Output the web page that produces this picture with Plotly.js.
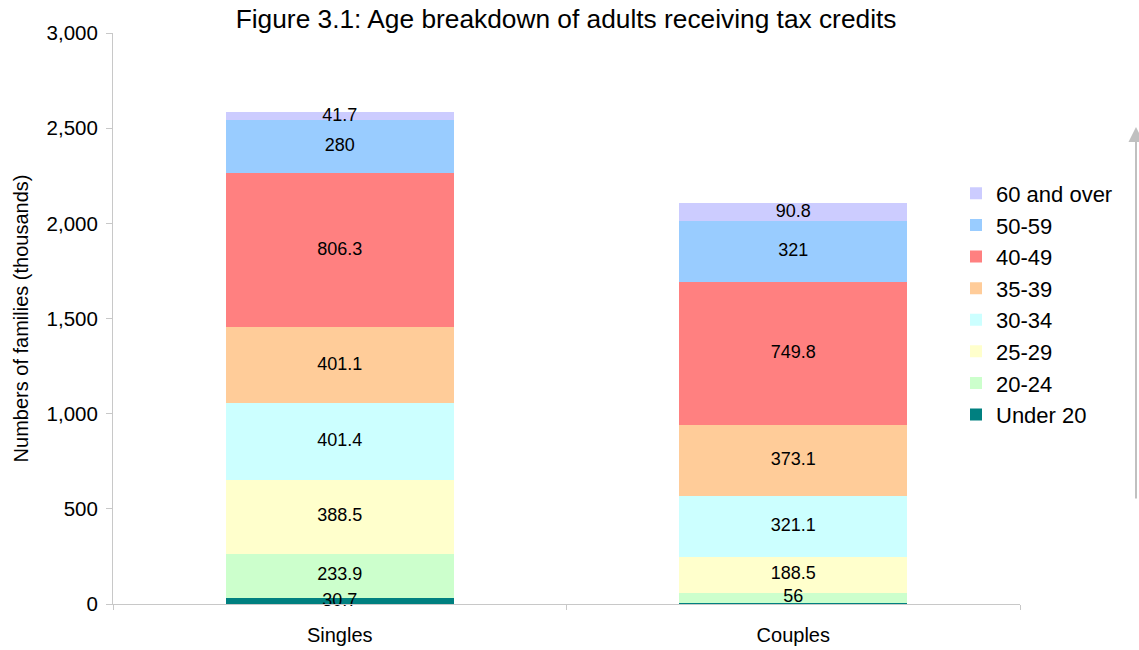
<!DOCTYPE html>
<html>
<head>
<meta charset="utf-8">
<script src="https://cdn.plot.ly/plotly-3.0.1.min.js"></script>
<style>html,body{margin:0;padding:0;background:#fff;}#chart{width:1139px;height:650px;}</style>
</head>
<body>
<div id="chart"></div>
<script>
const categories = ['Singles', 'Couples'];
const seriesNames = ['Under 20', '20-24', '25-29', '30-34', '35-39', '40-49', '50-59', '60 and over'];
const under20 = [30.7, 4];
const age20_24 = [233.9, 56];
const age25_29 = [388.5, 188.5];
const age30_34 = [401.4, 321.1];
const age35_39 = [401.1, 373.1];
const age40_49 = [806.3, 749.8];
const age50_59 = [280, 321];
const age60plus = [41.7, 90.8];
const showLabelUnder20 = [true, false];
const yTickVals = [0, 500, 1000, 1500, 2000, 2500, 3000];
const yTickText = ['0', '500', '1,000', '1,500', '2,000', '2,500', '3,000'];

const seriesValues = [under20, age20_24, age25_29, age30_34, age35_39, age40_49, age50_59, age60plus];
const colors = ['#008080', '#CCFFCC', '#FFFFCC', '#CCFFFF', '#FFCC99', '#FF8080', '#99CCFF', '#CCCCFF'];
const FONT = 'Liberation Sans, Arial, sans-serif';

const traces = seriesNames.map((name, i) => ({
  type: 'bar',
  name: name,
  x: categories,
  y: seriesValues[i],
  marker: {color: colors[i], line: {width: 0}},
  width: 0.503,
  hoverinfo: 'skip'
}));

// data labels at the middle of each segment, drawn above all bars
const lx = [], ly = [], lt = [];
categories.forEach((c, ci) => {
  let base = 0;
  seriesValues.forEach((vals, si) => {
    const v = vals[ci];
    const show = si === 0 ? showLabelUnder20[ci] : true;
    if (show) { lx.push(c); ly.push(base + v / 2); lt.push(String(v)); }
    base += v;
  });
});
traces.push({
  type: 'scatter', mode: 'text', x: lx, y: ly, text: lt,
  textposition: 'middle center', cliponaxis: false, showlegend: false,
  textfont: {family: FONT, size: 18, color: '#000'}, hoverinfo: 'skip'
});

const layout = {
  width: 1139, height: 650,
  margin: {l: 113, r: 119, t: 33, b: 46, pad: 0},
  paper_bgcolor: '#fff', plot_bgcolor: '#fff',
  barmode: 'stack',
  showlegend: true,
  font: {family: FONT, color: '#000'},
  title: {text: 'Figure 3.1: Age breakdown of adults receiving tax credits',
    font: {size: 26.3, color: '#000'}, x: 0.497, xanchor: 'center',
    yref: 'container', y: 1 - 19 / 650, yanchor: 'middle'},
  xaxis: {
    type: 'category', showgrid: false, zeroline: false,
    showline: true, linecolor: '#c8c8c8', linewidth: 1,
    ticks: 'outside', tickson: 'boundaries', ticklen: 5, tickcolor: '#c8c8c8',
    tickfont: {size: 20, color: '#000'},
    ticklabelstandoff: 13
  },
  yaxis: {
    range: [0, 3000], showgrid: false, zeroline: false,
    showline: true, linecolor: '#c8c8c8', linewidth: 1,
    ticks: 'outside', ticklen: 6, tickcolor: '#c8c8c8',
    tickvals: yTickVals, ticktext: yTickText,
    tickfont: {size: 20.5, color: '#000'},
    ticklabelstandoff: 4,
    title: {text: 'Numbers of families (thousands)', font: {size: 20, color: '#000'}, standoff: 12}
  },
  legend: {
    x: (956 - 113) / 907, xanchor: 'left', y: 0.7556, yanchor: 'top',
    traceorder: 'reversed',
    font: {size: 22, color: '#000'},
    bgcolor: 'rgba(0,0,0,0)', borderwidth: 0,
    itemwidth: 30
  },
  annotations: [{
    xref: 'paper', yref: 'paper',
    x: (1136 - 113) / 907, y: (604 - 127) / 571,
    text: '', showarrow: true, ax: 0, ay: 373,
    arrowcolor: '#c0c0c0', arrowwidth: 2, arrowhead: 2, arrowsize: 1.5
  }]
};

Plotly.newPlot('chart', traces, layout, {staticPlot: true});
</script>
</body>
</html>
